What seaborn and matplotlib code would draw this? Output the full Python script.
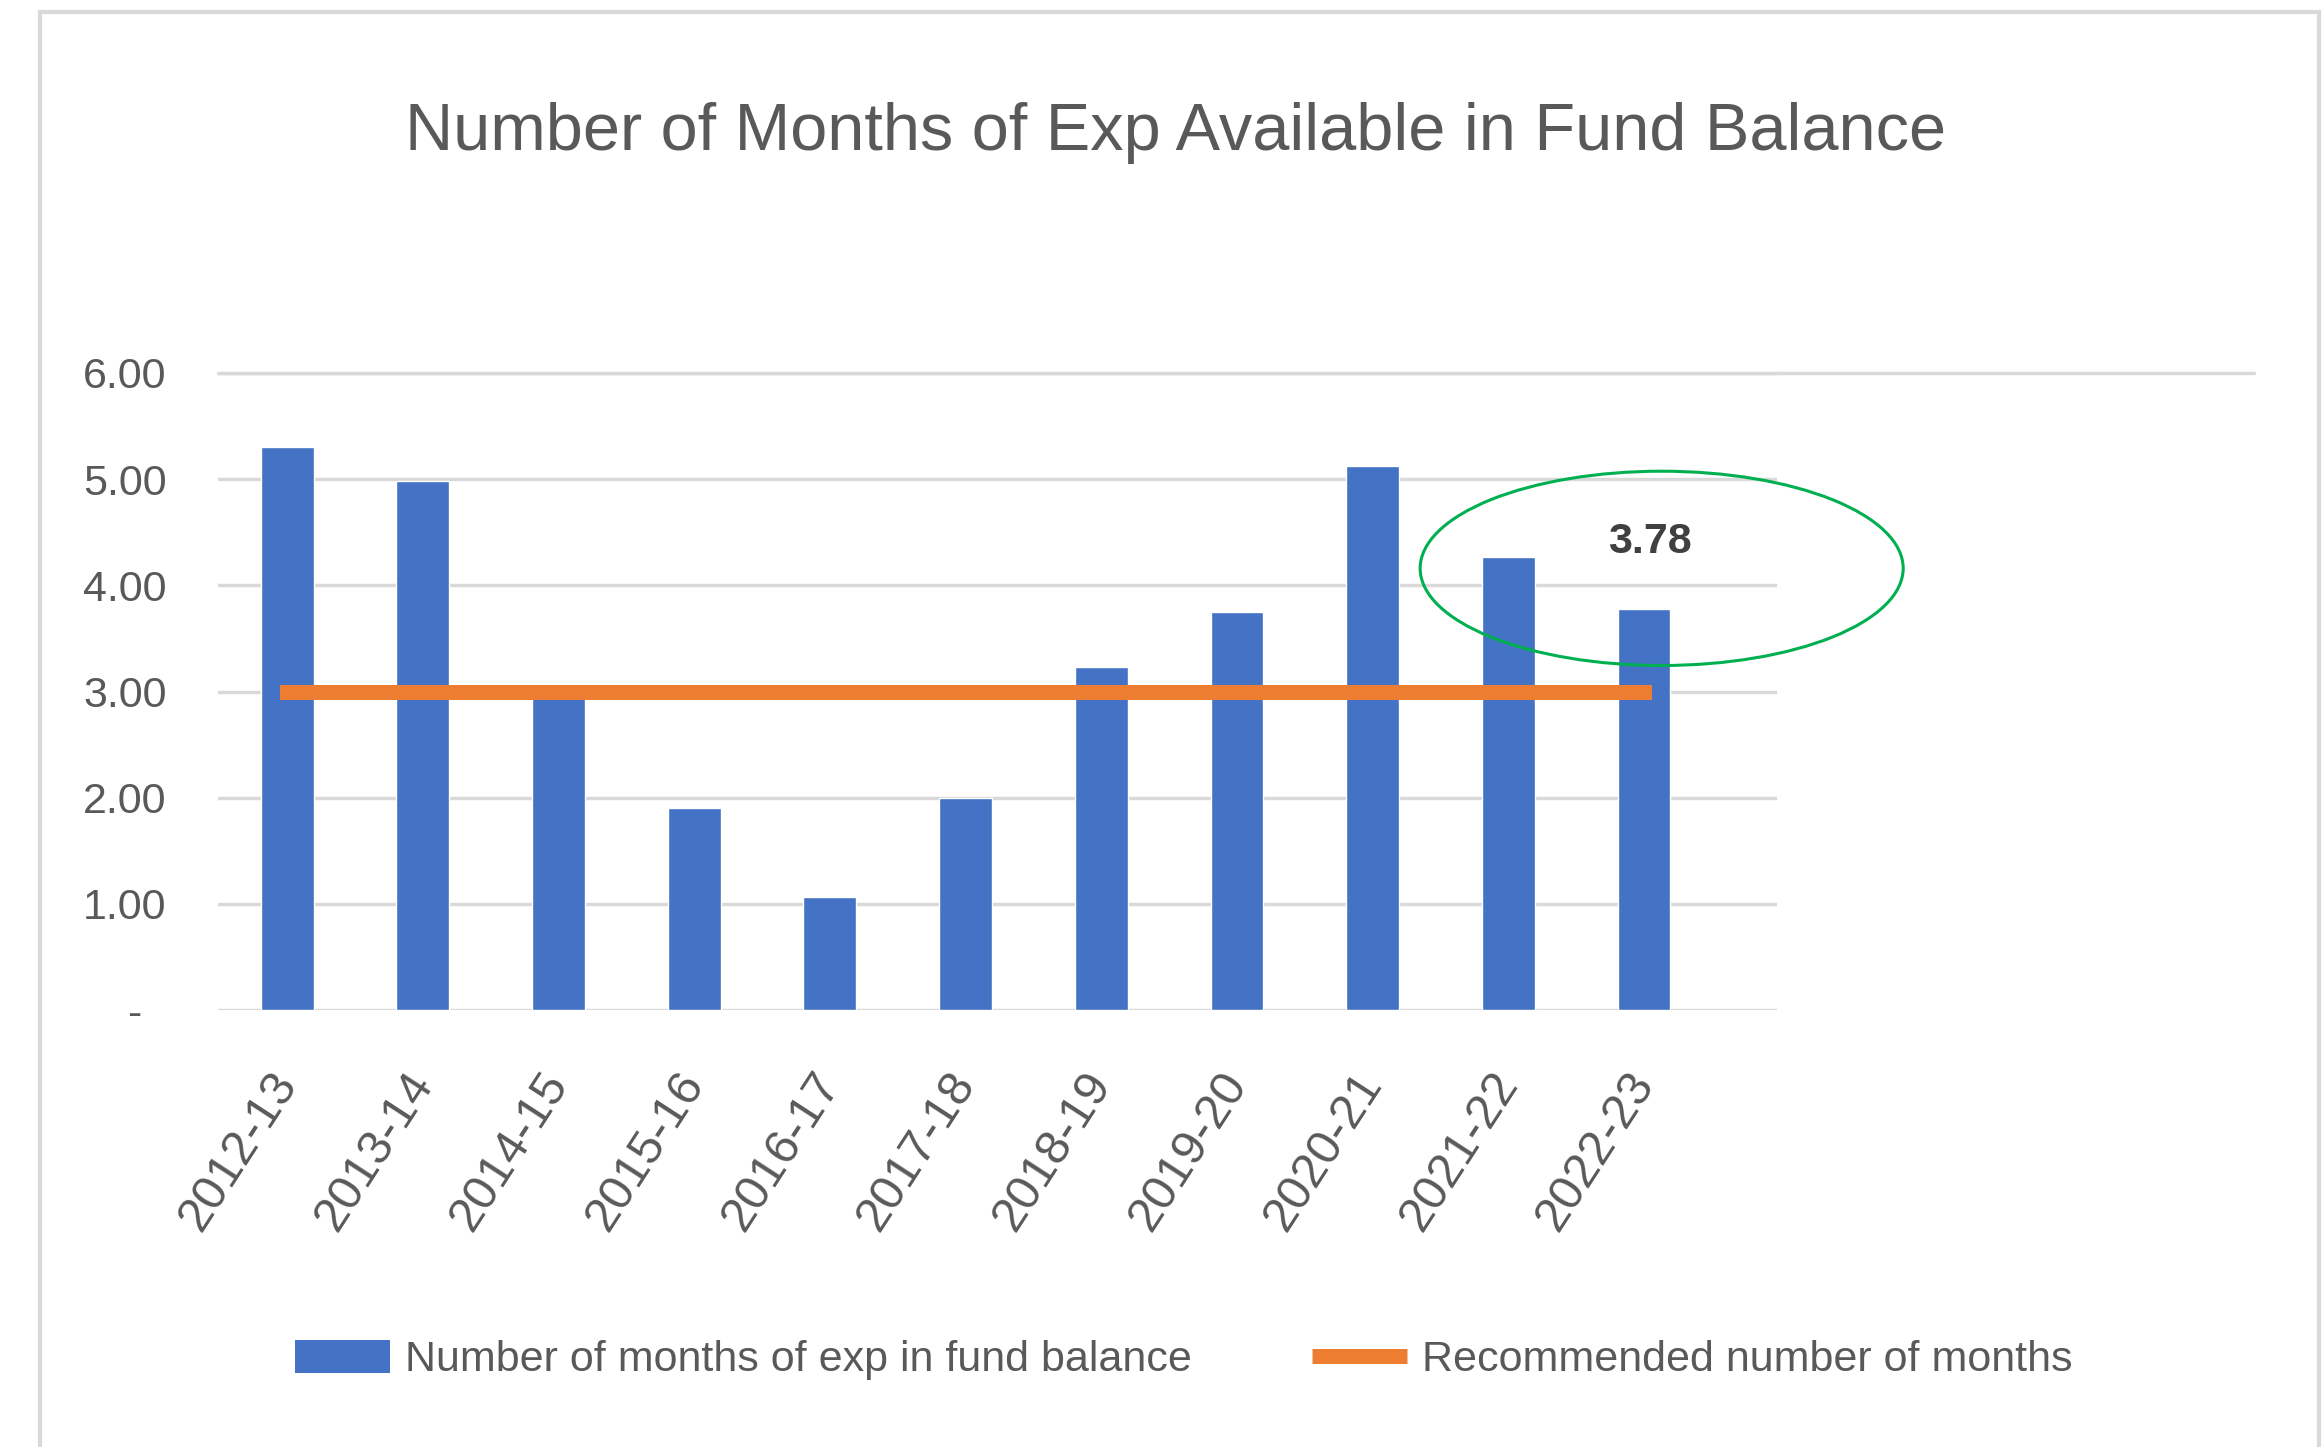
import matplotlib
matplotlib.use("Agg")
import matplotlib.pyplot as plt
import seaborn as sns
import numpy as np
import pandas as pd
from matplotlib.patches import Ellipse, Rectangle, Patch
from matplotlib.lines import Line2D

# ---- data ----
years = ["2012-13", "2013-14", "2014-15", "2015-16", "2016-17", "2017-18",
         "2018-19", "2019-20", "2020-21", "2021-22", "2022-23"]
months_available = [5.30, 4.98, 2.94, 1.90, 1.06, 2.00, 3.23, 3.75, 5.12, 4.27, 3.78]
recommended = [3.0] * len(years)
y_ticks = [0, 1, 2, 3, 4, 5, 6]
y_tick_labels = ["-  ", "1.00", "2.00", "3.00", "4.00", "5.00", "6.00"]
title = "Number of Months of Exp Available in Fund Balance"
bar_label_name = "Number of months of exp in fund balance"
line_label_name = "Recommended number of months"

BLUE = "#4472C4"
ORANGE = "#ED7D31"
GRID = "#D9D9D9"
TXT = "#595959"

sns.set_theme(style="white")
plt.rcParams["font.family"] = ["Liberation Sans", "DejaVu Sans"]

W, H = 2322, 1447
fig = plt.figure(figsize=(W / 100, H / 100), dpi=100)
fig.patch.set_facecolor("white")
ax = fig.add_axes([218 / W, 1 - 1010 / H, (1777 - 218) / W, (1010 - 373) / H])

df = pd.DataFrame({"year": years, "months": months_available, "rec": recommended})
df["pos"] = np.arange(len(df))

sns.barplot(data=df, x="year", y="months", color=BLUE, width=0.39,
            saturation=1, ax=ax, zorder=2)
sns.lineplot(data=df, x="pos", y="rec", color=ORANGE, linewidth=10.8,
             ax=ax, zorder=3, legend=False)
for ln in ax.get_lines():
    ln.set_solid_capstyle("projecting")

ax.set_xlim(-0.51, 10.98)
ax.set_ylim(0, 6)
ax.set_yticks(y_ticks)
ax.set_yticklabels(y_tick_labels)
ax.yaxis.grid(True, color=GRID, linewidth=2.5, zorder=0)
ax.set_axisbelow(True)
ax.axhline(6, xmin=0, xmax=1.306, color=GRID, linewidth=2.5, clip_on=False, zorder=0)
for s in ax.spines.values():
    s.set_visible(False)
ax.set_xlabel("")
ax.set_ylabel("")
ax.tick_params(axis="y", length=0, pad=37, labelsize=31, labelcolor=TXT)
ax.tick_params(axis="x", length=0, pad=48, labelsize=35, labelcolor=TXT)
ax.set_xticks(np.arange(len(years)))
ax.set_xticklabels(years, rotation=57, ha="right", va="center", rotation_mode="anchor")

# data label and highlight ellipse for the latest year
last = len(years) - 1
ax.text(last + 0.04, months_available[-1] + 0.63, f"{months_available[-1]:.2f}",
        ha="center", va="center", fontsize=31, color="#404040", fontweight="bold", zorder=5)
ax.add_patch(Ellipse((last + 0.13, months_available[-1] + 0.38), 3.56, 1.83,
                     fill=False, edgecolor="#00B050", linewidth=2.2, clip_on=False, zorder=6))

fig.suptitle(title, x=1176 / W, y=1 - 150 / H, va="baseline", ha="center",
             fontsize=48, color=TXT)

handles = [Patch(facecolor=BLUE, edgecolor="none"),
           Line2D([0], [0], color=ORANGE, linewidth=10.8, solid_capstyle="butt")]
fig.legend(handles, [bar_label_name, line_label_name], loc="center",
           bbox_to_anchor=(1184 / W, 1 - 1360 / H), ncol=2, frameon=False,
           fontsize=31, labelcolor=TXT, handlelength=2.2, handleheight=0.8,
           handletextpad=0.35, columnspacing=2.8)

# outer chart border
fig.add_artist(Rectangle((40 / W, -0.02), (2319 - 40) / W, 1.02 - 12 / H,
                         transform=fig.transFigure, fill=False,
                         edgecolor=GRID, linewidth=3))

fig.savefig("out.png", dpi=100)
